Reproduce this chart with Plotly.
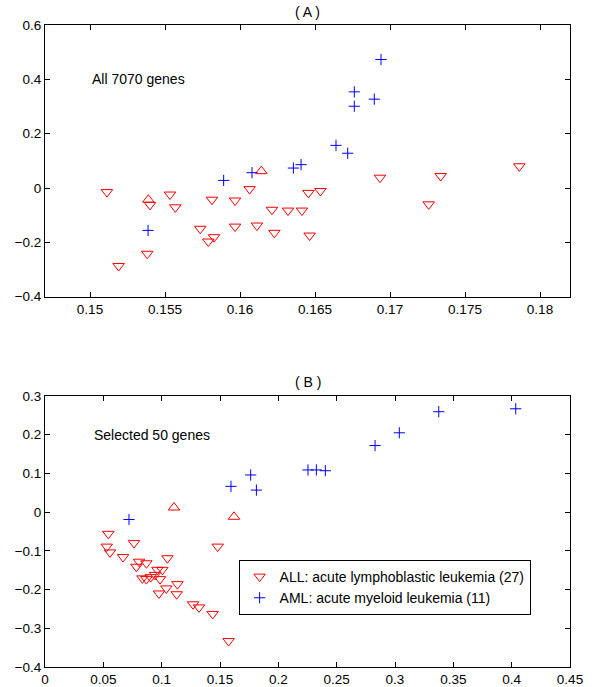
import plotly.graph_objects as go

# ---- Panel A: All 7070 genes ----
a_all_x = [0.15113, 0.15191, 0.15382, 0.15400, 0.15533, 0.15569, 0.15735, 0.15789, 0.15827,
           0.15813, 0.15967, 0.15967, 0.16064, 0.16113, 0.16213, 0.16229, 0.16320, 0.16413,
           0.16456, 0.16464, 0.16536, 0.16933, 0.17258, 0.17338, 0.17862]
a_all_y = [-0.015, -0.287, -0.242, -0.062, -0.024, -0.071, -0.150, -0.197, -0.181,
           -0.043, -0.046, -0.142, -0.004, -0.138, -0.080, -0.165, -0.083, -0.083,
           -0.018, -0.175, -0.011, 0.038, -0.060, 0.044, 0.080]
a_up_x = [0.15389, 0.16142]
a_up_y = [-0.043, 0.062]
a_aml_x = [0.1694, 0.16762, 0.16895, 0.16762, 0.1664, 0.16718, 0.16356, 0.16407, 0.1608, 0.15891, 0.15387]
a_aml_y = [0.473, 0.354, 0.327, 0.301, 0.157, 0.128, 0.0735, 0.086, 0.0565, 0.028, -0.156]

# ---- Panel B: Selected 50 genes ----
b_all_x = [0.0543, 0.0529, 0.0557, 0.0763, 0.0669, 0.0806, 0.0869, 0.0783, 0.1049, 0.0835,
           0.0869, 0.0906, 0.0943, 0.0963, 0.1006, 0.0986, 0.1040, 0.0977, 0.1135, 0.1129,
           0.1269, 0.1320, 0.1437, 0.1480, 0.1574]
b_all_y = [-0.056, -0.089, -0.104, -0.080, -0.116, -0.128, -0.132, -0.141, -0.119, -0.171,
           -0.173, -0.168, -0.162, -0.149, -0.149, -0.173, -0.197, -0.210, -0.186, -0.212,
           -0.238, -0.246, -0.263, -0.089, -0.333]
b_up_x = [0.1106, 0.1620]
b_up_y = [0.012, -0.012]
b_aml_x = [0.0720, 0.1594, 0.1763, 0.1812, 0.2254, 0.2326, 0.2403, 0.2829, 0.3037, 0.3375, 0.4035]
b_aml_y = [-0.019, 0.0667, 0.096, 0.057, 0.109, 0.109, 0.107, 0.172, 0.205, 0.2595, 0.267]

legend_all = "ALL: acute lymphoblastic leukemia (27)"
legend_aml = "AML: acute myeloid leukemia (11)"

RED = "#FF0000"
BLUE = "#0000FF"
FONT = "Liberation Sans, Arial, sans-serif"
FS_TICK = 13.5
FS = 14

tri_down = dict(symbol="triangle-down-open", size=10, color=RED, line=dict(color=RED, width=1))
tri_up = dict(symbol="triangle-up-open", size=10, color=RED, line=dict(color=RED, width=1))
plus = dict(symbol="cross-thin-open", size=8, color=BLUE, line=dict(color=BLUE, width=1))

fig = go.Figure()
# Panel A
fig.add_trace(go.Scatter(x=a_all_x, y=a_all_y, mode="markers", marker=tri_down,
                         xaxis="x", yaxis="y", showlegend=False))
fig.add_trace(go.Scatter(x=a_up_x, y=a_up_y, mode="markers", marker=tri_up,
                         xaxis="x", yaxis="y", showlegend=False))
fig.add_trace(go.Scatter(x=a_aml_x, y=a_aml_y, mode="markers", marker=plus,
                         xaxis="x", yaxis="y", showlegend=False))
# Panel B
fig.add_trace(go.Scatter(x=b_all_x, y=b_all_y, mode="markers", marker=tri_down,
                         xaxis="x2", yaxis="y2", name=legend_all))
fig.add_trace(go.Scatter(x=b_up_x, y=b_up_y, mode="markers", marker=tri_up,
                         xaxis="x2", yaxis="y2", showlegend=False))
fig.add_trace(go.Scatter(x=b_aml_x, y=b_aml_y, mode="markers", marker=plus,
                         xaxis="x2", yaxis="y2", name=legend_aml))

axis_common = dict(showgrid=False, zeroline=False, showline=True, linecolor="black", linewidth=1,
                   mirror="ticks", ticks="inside", ticklen=5, tickcolor="black", automargin=False,
                   tickfont=dict(family=FONT, size=FS_TICK, color="black"))

fig.update_layout(
    width=602, height=687,
    margin=dict(l=44.5, r=32, t=25, b=20, autoexpand=False),
    paper_bgcolor="white", plot_bgcolor="white",
    font=dict(family=FONT, size=FS, color="black"),
    xaxis=dict(domain=[0, 1], anchor="y", range=[0.147, 0.182], dtick=0.005, tick0=0.15, **axis_common),
    yaxis=dict(domain=[0.5768, 1], anchor="x", range=[-0.4, 0.6], dtick=0.2, **axis_common),
    xaxis2=dict(domain=[0, 1], anchor="y2", range=[0, 0.45], dtick=0.05, tick0=0, **axis_common),
    yaxis2=dict(domain=[0, 0.4221], anchor="x2", range=[-0.4, 0.3], dtick=0.1, **axis_common),
    legend=dict(x=0.3688, y=0.1667, xanchor="left", yanchor="top",
                bgcolor="white", bordercolor="black", borderwidth=1,
                font=dict(family=FONT, size=FS, color="black"),
                tracegroupgap=0, entrywidth=266, entrywidthmode="pixels"),
    annotations=[
        dict(text="( A )", xref="paper", yref="paper", x=0.5, y=1.02, showarrow=False,
             xanchor="center", yanchor="middle", font=dict(family=FONT, size=FS)),
        dict(text="( B )", xref="paper", yref="paper", x=0.5, y=0.4444, showarrow=False,
             xanchor="center", yanchor="middle", font=dict(family=FONT, size=FS)),
        dict(text="All 7070 genes", xref="x", yref="y", x=0.15, y=0.4, showarrow=False,
             xanchor="left", yanchor="middle", font=dict(family=FONT, size=FS)),
        dict(text="Selected 50 genes", xref="x2", yref="y2", x=0.0406, y=0.2, showarrow=False,
             xanchor="left", yanchor="middle", font=dict(family=FONT, size=FS)),
    ],
)

fig.write_html("out.html", config={"displayModeBar": False},
               post_script="document.body.style.margin='0';document.body.style.padding='0';"
                           "document.body.style.overflow='hidden';")
